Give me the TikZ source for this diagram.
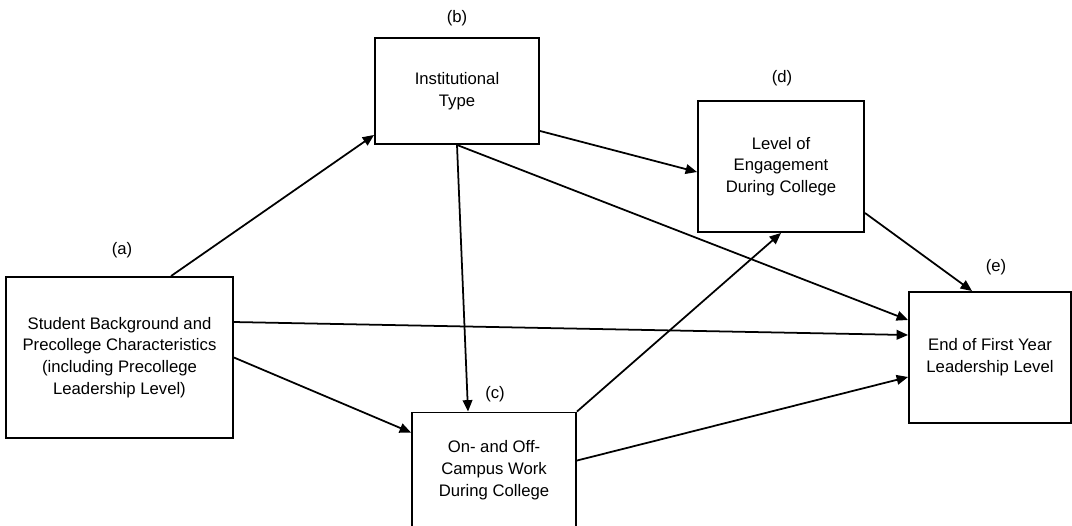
\documentclass[tikz,border=0pt]{standalone}
\usepackage{fontspec}
\setmainfont{Liberation Sans}
\usetikzlibrary{arrows.meta, positioning}

\tikzset{
    box/.style={draw, line width=1.1pt, align=center, inner sep=2pt, font=\fontsize{9.5}{12.4}\selectfont},
    tag/.style={font=\fontsize{9.5}{12.4}\selectfont},
    path/.style={->, line width=1pt},
    >={Triangle[length=6.5pt, width=5.5pt]}
}

\begin{document}
\begin{tikzpicture}[x=0.02cm, y=-0.02cm]
        \useasboundingbox (0, 0) rectangle (1072, 525);

        \node[box, minimum width=4.54cm, minimum height=3.22cm] (a) at (119.5, 357.5) {Student Background and\\Precollege Characteristics\\(including Precollege\\Leadership Level)};
        \node[box, minimum width=3.28cm, minimum height=2.12cm] (b) at (457, 91) {Institutional\\Type};
        \node[box, minimum width=3.28cm, minimum height=2.30cm] (c) at (494, 470) {On- and Off-\\Campus Work\\During College};
        \node[box, minimum width=3.32cm, minimum height=2.62cm] (d) at (781, 166.5) {Level of\\Engagement\\During College};
        \node[box, minimum width=3.24cm, minimum height=2.62cm] (e) at (990, 357.5) {End of First Year\\Leadership Level};

        \node[tag] (la) at (122, 250) {(a)};
        \node[tag] (lb) at (457, 18) {(b)};
        \node[tag] (lc) at (495, 394) {(c)};
        \node[tag] (ld) at (782, 78) {(d)};
        \node[tag] (le) at (996, 267) {(e)};

        \draw[path] ([xshift=3.32cm]a.north west) to ([yshift=0.2cm]b.south west);
        \draw[path] ([yshift=0.28cm]b.south east) to ([yshift=-0.11cm]d.west);
        \draw[path] (b.south) to ([yshift=0.75cm]e.west);
        \draw[path] (b.south) to ([xshift=-0.52cm]c.north);
        \draw[path] ([yshift=0.71cm]a.east) to ([yshift=0.45cm]e.west);
        \draw[path] (a.east) to ([yshift=-0.42cm]c.north west);
        \draw[path] (c.north east) to (d.south);
        \draw[path] ([yshift=-0.98cm]c.north east) to ([yshift=-0.39cm]e.west);
        \draw[path] ([yshift=0.4cm]d.south east) to ([xshift=1.28cm]e.north west);
    \end{tikzpicture}
\end{document}
